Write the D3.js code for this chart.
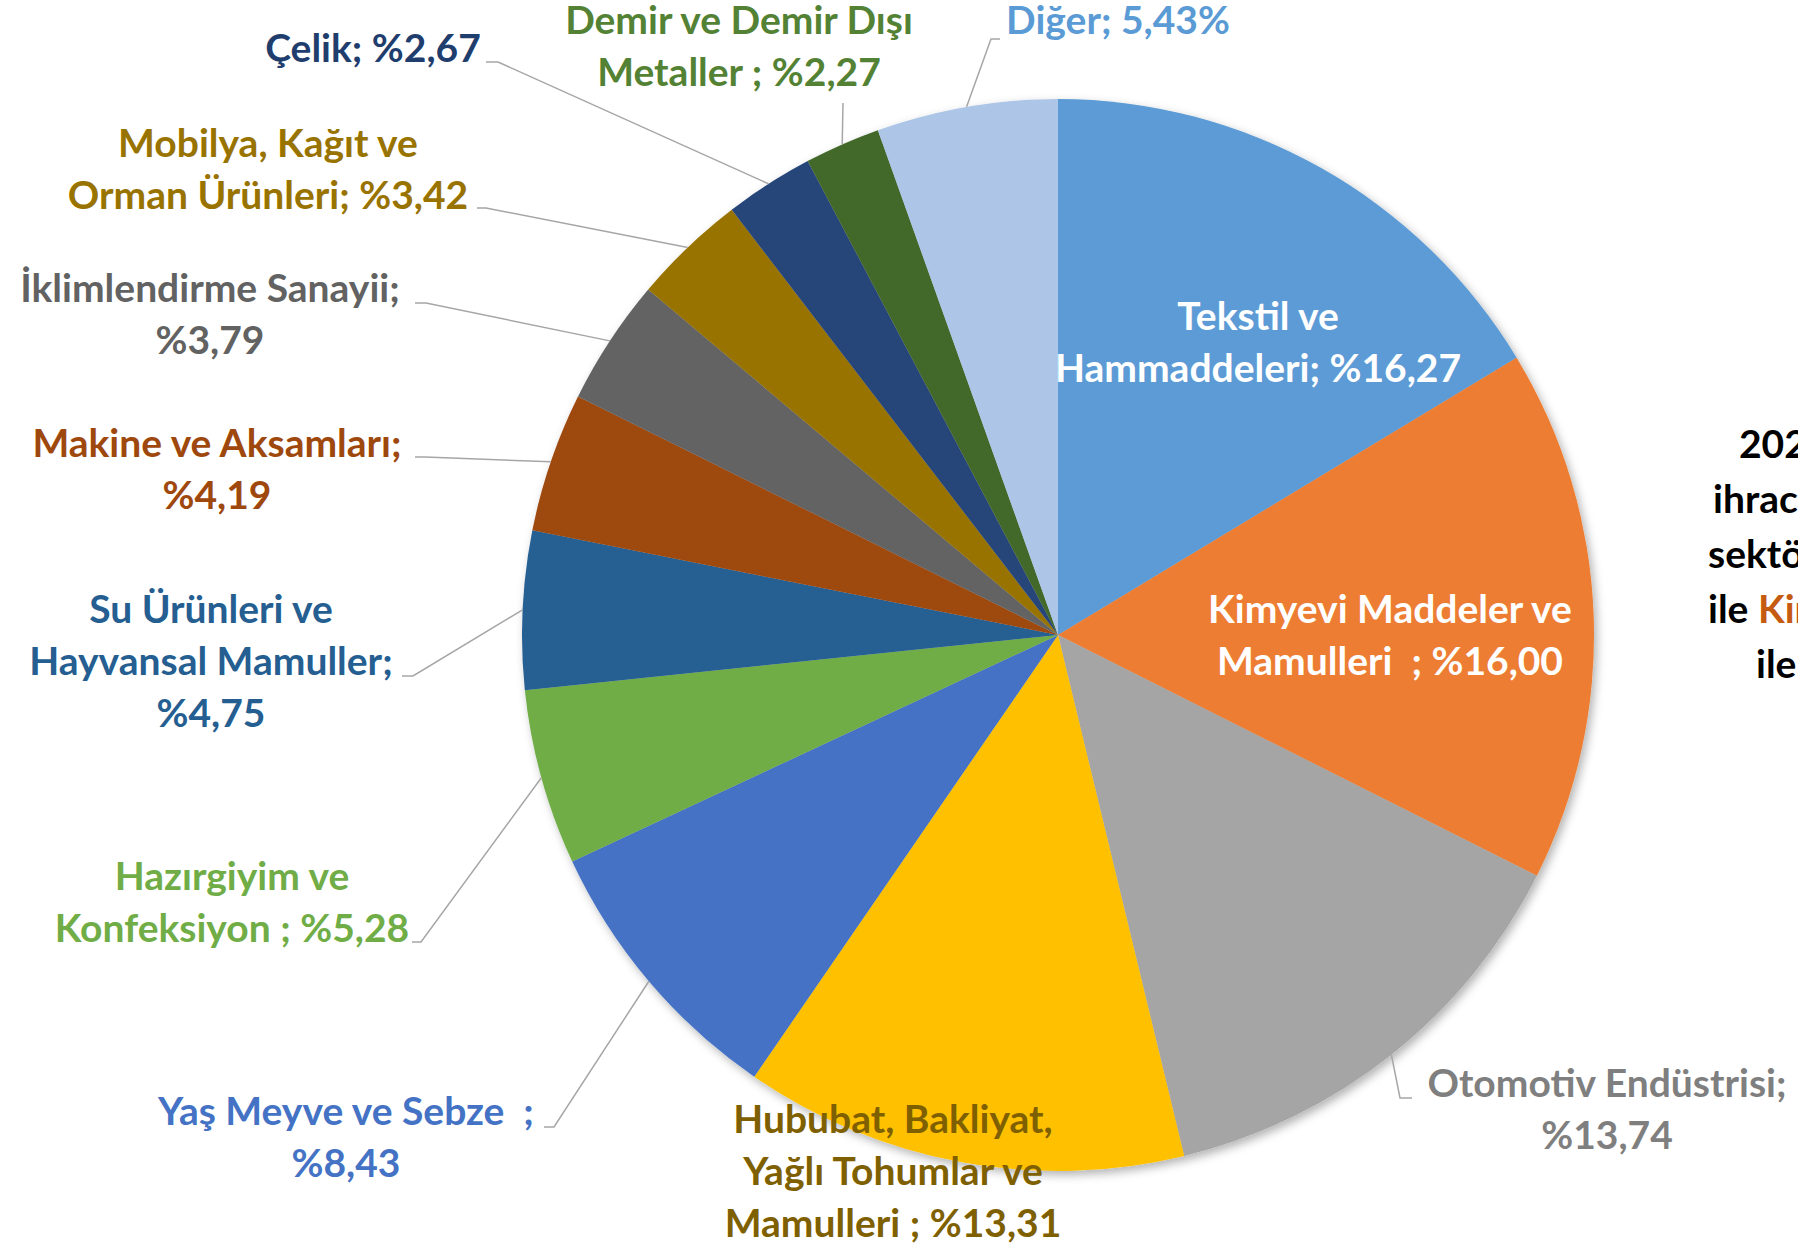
<!DOCTYPE html>
<html>
<head>
<meta charset="utf-8">
<script src="https://cdn.jsdelivr.net/npm/d3@7"></script>
<style>
  html, body { margin: 0; padding: 0; background: #ffffff; overflow: hidden; }
  svg { display: block; }
  text { font-family: Lato, "Open Sans", sans-serif; font-weight: 700; white-space: pre; }
</style>
</head>
<body>
<svg id="chart" width="1798" height="1246"></svg>
<script>
// ---------- DATA ----------
const categories = [
  "Tekstil ve Hammaddeleri",
  "Kimyevi Maddeler ve Mamulleri",
  "Otomotiv Endüstrisi",
  "Hububat, Bakliyat, Yağlı Tohumlar ve Mamulleri",
  "Yaş Meyve ve Sebze",
  "Hazırgiyim ve Konfeksiyon",
  "Su Ürünleri ve Hayvansal Mamuller",
  "Makine ve Aksamları",
  "İklimlendirme Sanayii",
  "Mobilya, Kağıt ve Orman Ürünleri",
  "Çelik",
  "Demir ve Demir Dışı Metaller",
  "Diğer"
];
const shares = [16.27, 16.00, 13.74, 13.31, 8.43, 5.28, 4.75, 4.19, 3.79, 3.42, 2.67, 2.27, 5.43];
const labelLines = [
  ["Tekstil ve", "Hammaddeleri; %16,27"],
  ["Kimyevi Maddeler ve", "Mamulleri  ; %16,00"],
  ["Otomotiv Endüstrisi;", "%13,74"],
  ["Hububat, Bakliyat,", "Yağlı Tohumlar ve", "Mamulleri ; %13,31"],
  ["Yaş Meyve ve Sebze  ;", "%8,43"],
  ["Hazırgiyim ve", "Konfeksiyon ; %5,28"],
  ["Su Ürünleri ve", "Hayvansal Mamuller;", "%4,75"],
  ["Makine ve Aksamları;", "%4,19"],
  ["İklimlendirme Sanayii;", "%3,79"],
  ["Mobilya, Kağıt ve", "Orman Ürünleri; %3,42"],
  ["Çelik; %2,67"],
  ["Demir ve Demir Dışı", "Metaller ; %2,27"],
  ["Diğer; 5,43%"]
];
const sideNoteLines = [
  [["2022 yılında", "#000000"]],
  [["ihracatta ilk sırada", "#000000"]],
  [["sektörler Tekstil", "#000000"]],
  [["ile ", "#000000"], ["Kimyevi Maddeler", "#C55A11"]],
  [["ile", "#000000"]]
];

// ---------- STYLE / LAYOUT ----------
const sliceColors = ["#5B9BD5", "#ED7D31", "#A5A5A5", "#FFC000", "#4472C4", "#70AD47",
                     "#255E91", "#9E480E", "#636363", "#997300", "#264478", "#43682B", "#ADC6E7"];
const textColors = ["#FFFFFF", "#FFFFFF", "#7F7F7F", "#7F6000", "#4472C4", "#70AD47",
                    "#255E91", "#9E480E", "#626262", "#997300", "#1F3E6E", "#548235", "#5B9BD5"];
// label centre x, first baseline y, leader elbow & attach points (null = no leader)
const labelLayout = [
  { x: 1258, y: 330, leader: null },
  { x: 1390, y: 623, leader: null },
  { x: 1607, y: 1097, leader: [[1400, 1098], [1412, 1098]] },
  { x: 893,  y: 1133, leader: null },
  { x: 346,  y: 1125, leader: [[554, 1127], [544, 1127]] },
  { x: 232,  y: 890,  leader: [[421, 942], [412, 942]] },
  { x: 211,  y: 623,  leader: [[413, 676], [402, 676]] },
  { x: 217,  y: 457,  leader: [[425, 457], [415, 457]] },
  { x: 210,  y: 302,  leader: [[426, 303], [415, 303]] },
  { x: 268,  y: 157,  leader: [[486, 208], [477, 208]] },
  { x: 373,  y: 62,   leader: [[498, 62], [486, 62]] },
  { x: 739,  y: 34,   leader: [[843, 103], [843, 103]] },
  { x: 1118, y: 34,   leader: [[991, 39], [1000, 39]] }
];
const cx = 1058, cy = 635, R = 536;
const lineGap = 52;
const fontSize = 39;

// ---------- DRAW ----------
const svg = d3.select("#chart");
const defs = svg.append("defs");
const f = defs.append("filter").attr("id", "shadow")
  .attr("x", "-10%").attr("y", "-10%").attr("width", "125%").attr("height", "125%");
f.append("feDropShadow").attr("dx", 3).attr("dy", 4).attr("stdDeviation", 5)
  .attr("flood-color", "#000").attr("flood-opacity", 0.3);

const pie = d3.pie().sort(null).value(d => d)(shares);
const arc = d3.arc().innerRadius(0).outerRadius(R);

const g = svg.append("g").attr("transform", `translate(${cx},${cy})`);
g.append("g").attr("filter", "url(#shadow)")
  .selectAll("path").data(pie).join("path")
  .attr("d", arc)
  .attr("fill", (d, i) => sliceColors[i]);

// leader lines
const edgePoint = d => {
  const a = (d.startAngle + d.endAngle) / 2;
  return [cx + R * Math.sin(a), cy - R * Math.cos(a)];
};
svg.append("g").selectAll("polyline")
  .data(pie.filter((d, i) => labelLayout[i].leader))
  .join("polyline")
  .attr("points", d => [edgePoint(d)].concat(labelLayout[d.index].leader).map(p => p.join(",")).join(" "))
  .attr("fill", "none")
  .attr("stroke", "#A6A6A6")
  .attr("stroke-width", 1.5);

// labels
const lg = svg.append("g");
pie.forEach((d, i) => {
  const L = labelLayout[i];
  const t = lg.append("text")
    .attr("text-anchor", "middle")
    .attr("fill", textColors[i])
    .style("font-size", fontSize + "px");
  labelLines[i].forEach((line, k) => {
    t.append("tspan").attr("x", L.x).attr("y", L.y + k * lineGap).text(line);
  });
});

// side note (partially outside the view on the right, as in the reference)
const sideX = [1739, 1713, 1708, 1708, 1756];
const sg = svg.append("g");
sideNoteLines.forEach((parts, k) => {
  const t = sg.append("text")
    .attr("x", sideX[k]).attr("y", 458 + k * 55)
    .style("font-size", fontSize + "px");
  parts.forEach(p => t.append("tspan").attr("fill", p[1]).text(p[0]));
});
</script>
</body>
</html>
